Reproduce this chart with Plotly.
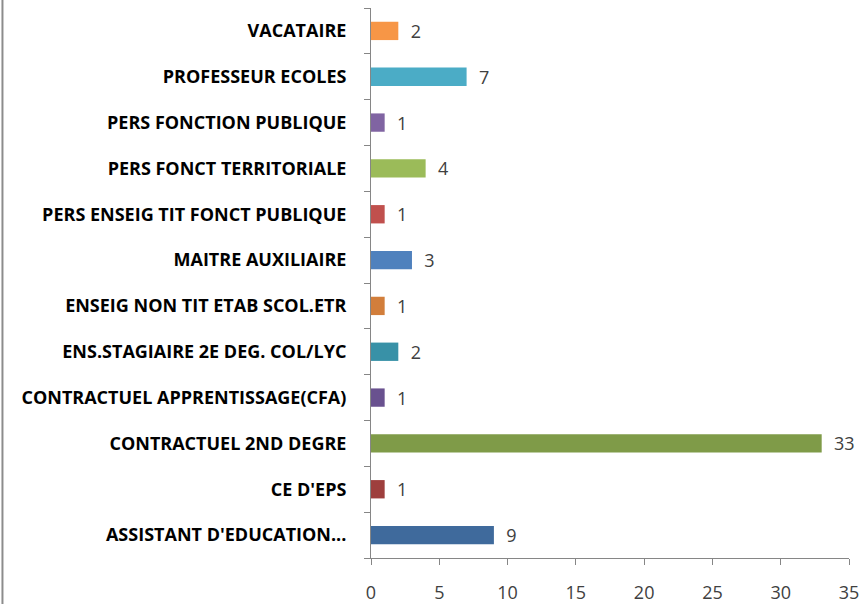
import plotly.graph_objects as go

categories = [
    "ASSISTANT D'EDUCATION...",
    "CE D'EPS",
    "CONTRACTUEL 2ND DEGRE",
    "CONTRACTUEL APPRENTISSAGE(CFA)",
    "ENS.STAGIAIRE 2E DEG. COL/LYC",
    "ENSEIG NON TIT ETAB SCOL.ETR",
    "MAITRE AUXILIAIRE",
    "PERS ENSEIG TIT FONCT PUBLIQUE",
    "PERS FONCT TERRITORIALE",
    "PERS FONCTION PUBLIQUE",
    "PROFESSEUR ECOLES",
    "VACATAIRE",
]
values = [9, 1, 33, 1, 2, 1, 3, 1, 4, 1, 7, 2]
bar_colors = [
    "#3F6A9C", "#9E3F3D", "#7F9B48", "#69518F", "#3891A7", "#D27E3B",
    "#4F81BD", "#C0504D", "#9BBB59", "#8064A2", "#4BACC6", "#F79646",
]

fig = go.Figure(go.Bar(
    x=values, y=categories, orientation="h",
    marker=dict(color=bar_colors, line=dict(width=0)),
    width=0.4,
    text=values, texttemplate="  %{x}", textposition="outside",
    textfont=dict(family="Open Sans", size=18, color="#404040"),
    constraintext="none",
    cliponaxis=False,
))

fig.update_xaxes(range=[0, 35], dtick=5, showgrid=False, zeroline=False,
                 showline=True, linecolor="#868686", linewidth=1,
                 ticks="outside", ticklen=6, tickcolor="#868686",
                 tickfont=dict(family="Open Sans", size=18, color="#404040"),
                 ticklabelstandoff=12, automargin=False)
fig.update_yaxes(showgrid=False, showline=True, linecolor="#868686", linewidth=1,
                 ticks="outside", ticklen=6, tickcolor="#868686", tickson="boundaries",
                 tickfont=dict(family="Open Sans", size=18, color="#000000", weight="bold"),
                 ticklabelstandoff=20, automargin=False)

# gray border of the chart area on the left
fig.add_shape(type="line", xref="paper", yref="paper", x0=-0.771, x1=-0.771,
              y0=-0.1, y1=1.02, line=dict(color="#8C8C8C", width=2))

fig.update_layout(
    width=864, height=604,
    margin=dict(l=371, r=15, t=8, b=46),
    paper_bgcolor="white", plot_bgcolor="white",
    showlegend=False,
    font=dict(family="Open Sans"),
)

fig.write_html("out.html", config={"displayModeBar": False},
               post_script="document.body.style.margin='0';")
